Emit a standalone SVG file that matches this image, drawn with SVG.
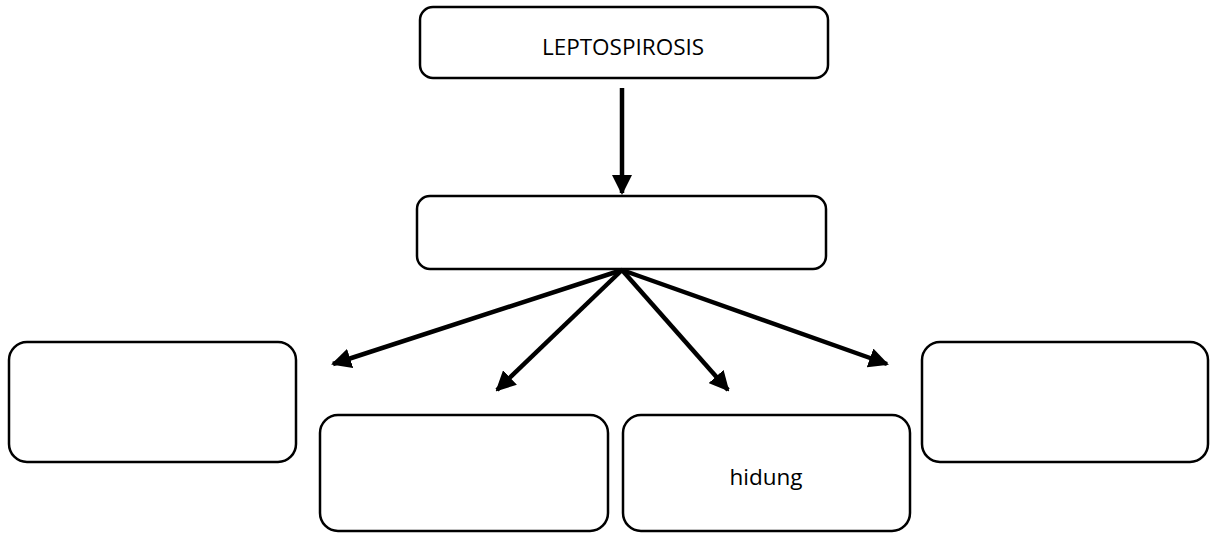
<svg xmlns="http://www.w3.org/2000/svg" width="1213" height="533" viewBox="0 0 1213 533">
<style>
.box{fill:#fff;stroke:#000;stroke-width:2.5}
.lbl{font-family:"Open Sans","Liberation Sans",sans-serif;font-size:22.5px;fill:#000;text-anchor:middle}
.con{stroke:#000;stroke-width:4.5;fill:none;marker-end:url(#ah)}
</style>
<defs>
<marker id="ah" markerUnits="userSpaceOnUse" markerWidth="20" markerHeight="20" refX="18" refY="10" orient="auto" viewBox="0 0 20 20">
<path d="M0,0 L20,10 L0,20 Z" fill="#000"/>
</marker>
</defs>
<g id="node-leptospirosis">
<rect class="box" x="420" y="7" width="408" height="71" rx="13"/>
<text class="lbl" x="623" y="55">LEPTOSPIROSIS</text>
</g>
<g id="node-middle">
<rect class="box" x="417" y="196" width="409" height="73" rx="13"/>
</g>
<g id="node-left">
<rect class="box" x="9" y="342" width="287" height="120" rx="18"/>
</g>
<g id="node-bottom-left">
<rect class="box" x="320" y="415" width="288" height="116" rx="18"/>
</g>
<g id="node-hidung">
<rect class="box" x="623" y="415" width="287" height="116" rx="18"/>
<text class="lbl" x="766" y="485">hidung</text>
</g>
<g id="node-right">
<rect class="box" x="922" y="342" width="286" height="120" rx="18"/>
</g>
<g id="connectors">
<line class="con" x1="622" y1="88" x2="622" y2="193"/>
<line class="con" x1="622" y1="270" x2="333" y2="364"/>
<line class="con" x1="622" y1="270" x2="497" y2="390"/>
<line class="con" x1="622" y1="270" x2="728" y2="390"/>
<line class="con" x1="622" y1="270" x2="887" y2="364"/>
</g>
</svg>
